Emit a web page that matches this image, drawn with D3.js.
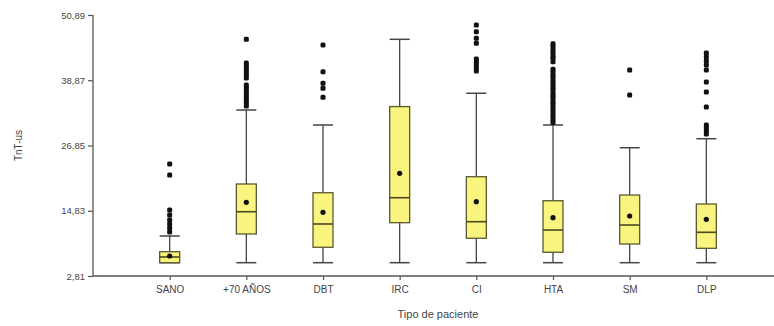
<!DOCTYPE html>
<html>
<head>
<meta charset="utf-8">
<script src="https://cdn.jsdelivr.net/npm/d3@7"></script>
<style>
  html, body { margin: 0; padding: 0; background: #fff; }
  text { font-family: "Liberation Sans", Arial, sans-serif; }
</style>
</head>
<body>
<svg id="chart" width="774" height="326"></svg>
<script>
// ---- data ----
const categories = ["SANO", "+70 AÑOS", "DBT", "IRC", "CI", "HTA", "SM", "DLP"];
const whiskerLow = [5.26, 5.26, 5.26, 5.26, 5.26, 5.26, 5.26, 5.26];
const q1 =        [5.26, 10.55, 8.10, 12.63, 9.76, 7.18, 8.70, 7.91];
const medians =   [6.31, 14.65, 12.39, 17.23, 12.81, 11.28, 12.20, 10.86];
const q3 =        [7.29, 19.76, 18.15, 34.02, 21.10, 16.68, 17.73, 16.07];
const whiskerHigh = [10.18, 33.39, 30.63, 46.41, 36.47, 30.63, 26.44, 28.10];
const means =     [6.49, 16.39, 14.54, 21.73, 16.50, 13.55, 13.86, 13.25];
const outliers = [
  [23.44, 21.42, 14.97, 14.05, 13.13, 12.39, 11.65, 10.92],
  [46.41, 42.05, 41.49, 40.94, 40.39, 39.84, 39.28, 37.99, 37.44, 36.89, 36.34, 35.78, 35.23, 34.68, 34.13],
  [45.36, 40.45, 38.31, 37.39, 35.73],
  [],
  [49.05, 47.81, 46.60, 45.68, 42.78, 42.23, 41.68, 41.13, 40.57],
  [45.6, 45.1, 44.5, 44.0, 43.4, 42.9, 42.3, 40.9, 40.4, 39.8, 39.3, 38.7, 38.2, 37.6, 37.1, 36.5, 36.0, 35.5, 34.9, 34.4, 33.8, 33.3, 32.7, 32.2, 31.6, 31.1],
  [40.76, 36.15],
  [43.89, 43.15, 42.42, 41.68, 40.76, 38.55, 36.71, 33.94, 30.63, 30.07, 29.52, 28.97]
];
const yTicks = [2.81, 14.83, 26.85, 38.87, 50.89];
const yTickLabels = ["2,81", "14,83", "26,85", "38,87", "50,89"];
const xTitle = "Tipo de paciente";
const yTitle = "TnT-us";

// ---- layout ----
const svg = d3.select("#chart");
const mLeft = 93, mRight = 783, mTop = 15, mBottom = 276;

const x = d3.scalePoint().domain(categories).range([mLeft, mRight]).padding(1);
const y = d3.scaleLinear().domain([2.81, 50.89]).range([mBottom, mTop]);

const boxW = 20;
const textCol = "#444";
const axisCol = "#555";

// axes
const yAxis = svg.append("g").attr("transform", `translate(${mLeft},0)`)
  .call(d3.axisLeft(y).tickValues(yTicks).tickFormat((d, i) => yTickLabels[i]).tickSize(5).tickPadding(3));
yAxis.select(".domain").attr("stroke", axisCol).attr("stroke-width", 1.3).attr("d", `M0,${mTop}V${mBottom}`);
yAxis.selectAll(".tick line").attr("stroke", axisCol).attr("stroke-width", 1.2);
yAxis.selectAll(".tick text").attr("fill", textCol).style("font-size", "9.5px");

const xAxis = svg.append("g").attr("transform", `translate(0,${mBottom})`)
  .call(d3.axisBottom(x).tickSize(4).tickPadding(6));
xAxis.select(".domain").attr("stroke", axisCol).attr("stroke-width", 1.3).attr("d", `M${mLeft},0H774`);
xAxis.selectAll(".tick line").attr("stroke", axisCol).attr("stroke-width", 1.2);
xAxis.selectAll(".tick text").attr("fill", textCol).style("font-size", "10px");

svg.append("text").attr("x", (mLeft + mRight) / 2).attr("y", 318)
  .attr("text-anchor", "middle").attr("fill", textCol).style("font-size", "11px").text(xTitle);
svg.append("text").attr("transform", `translate(22,${(mTop + mBottom) / 2}) rotate(-90)`)
  .attr("text-anchor", "middle").attr("fill", textCol).style("font-size", "10px").text(yTitle);

// boxes
const g = svg.append("g");
categories.forEach((c, i) => {
  const cx = x(c);
  const grp = g.append("g");
  grp.append("line").attr("x1", cx).attr("x2", cx)
    .attr("y1", y(whiskerLow[i])).attr("y2", y(whiskerHigh[i]))
    .attr("stroke", "#444").attr("stroke-width", 1.3);
  [whiskerLow[i], whiskerHigh[i]].forEach(v => {
    grp.append("line").attr("x1", cx - boxW / 2).attr("x2", cx + boxW / 2)
      .attr("y1", y(v)).attr("y2", y(v)).attr("stroke", "#444").attr("stroke-width", 1.5);
  });
  grp.append("rect").attr("x", cx - boxW / 2).attr("width", boxW)
    .attr("y", y(q3[i])).attr("height", Math.max(y(q1[i]) - y(q3[i]), 0))
    .attr("fill", "#f8f47e").attr("stroke", "#5a5a30").attr("stroke-width", 1.3);
  grp.append("line").attr("x1", cx - boxW / 2).attr("x2", cx + boxW / 2)
    .attr("y1", y(medians[i])).attr("y2", y(medians[i]))
    .attr("stroke", "#4a4a20").attr("stroke-width", 1.6);
  grp.append("circle").attr("cx", cx).attr("cy", y(means[i])).attr("r", 2.6).attr("fill", "#111");
  outliers[i].forEach(v => {
    grp.append("rect").attr("x", cx - 2.5).attr("y", y(v) - 2.5).attr("width", 5).attr("height", 5)
      .attr("rx", 1.5).attr("fill", "#111");
  });
});
</script>
</body>
</html>
